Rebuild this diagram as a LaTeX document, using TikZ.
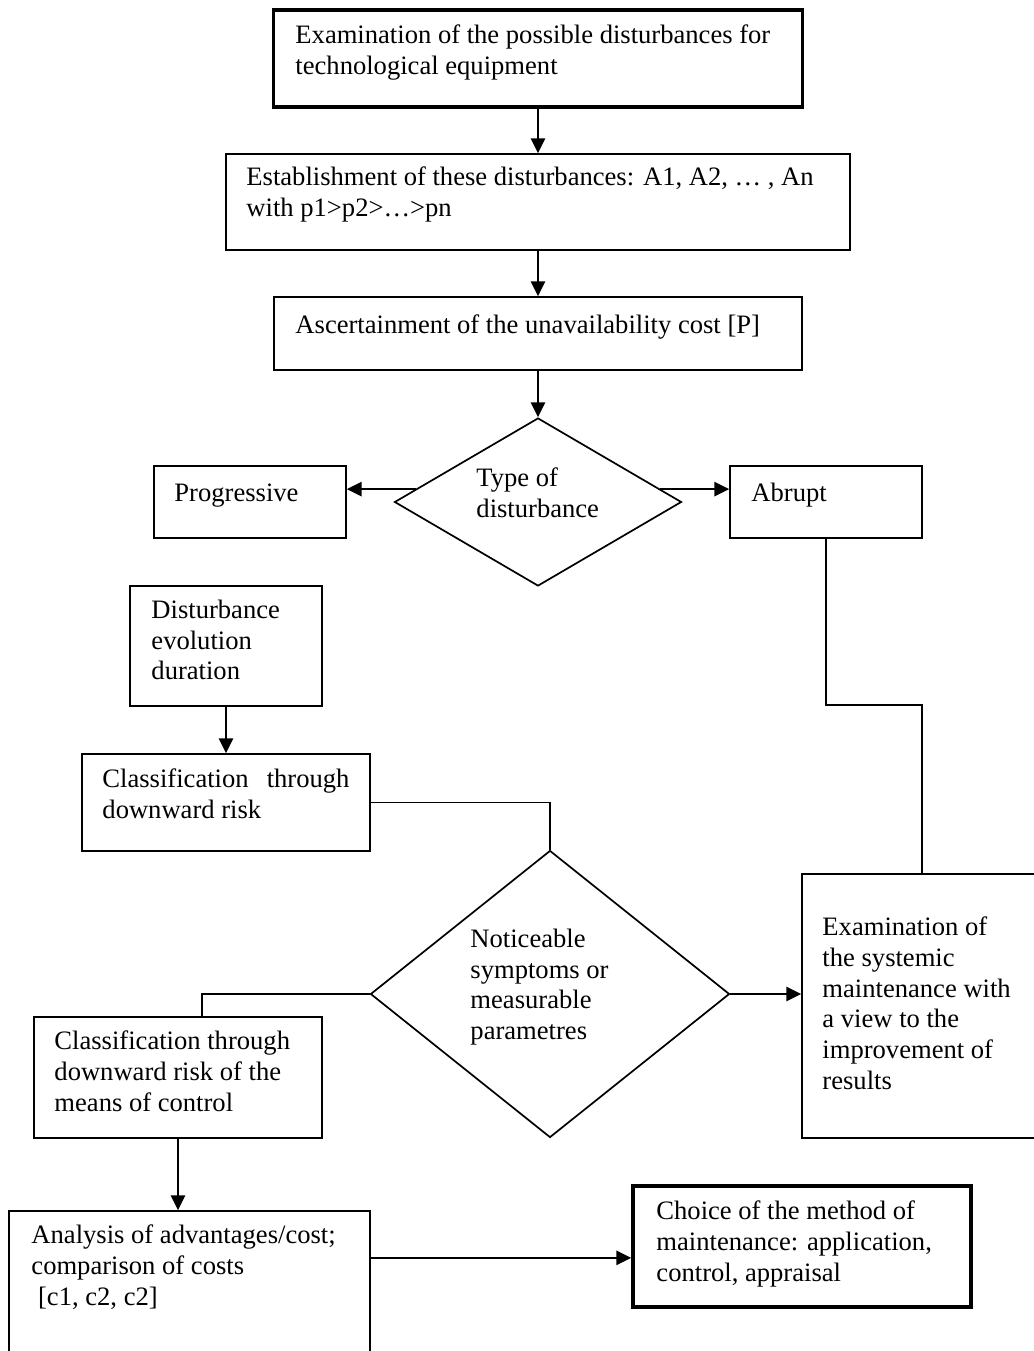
\documentclass[tikz,border=0pt]{standalone}
\usepackage{fontspec}
\setmainfont{Liberation Serif}
\usetikzlibrary{arrows.meta,shapes.geometric}
\begin{document}
\begin{tikzpicture}[x=0.44pt, y=-0.44pt,
    every node/.style={font=\fontsize{11.7pt}{13.5pt}\selectfont},
    box/.style 2 args={rectangle, draw=black, line width=0.75pt, inner sep=0pt, minimum width=#1*0.44pt, minimum height=#2*0.44pt},
    dec/.style 2 args={diamond, draw=black, line width=0.75pt, inner sep=0pt, minimum width=#1*0.44pt, minimum height=#2*0.44pt},
    heavy/.style={line width=1.6pt},
    txt/.style={anchor=north west, align=left, inner sep=0pt, execute at begin node=\strut},
    arr/.style={-{Triangle[length=6.5pt, width=6.3pt]}, line width=0.75pt, black},
    ln/.style={line width=0.75pt, black}
]
\useasboundingbox (0,0) rectangle (1034,1351);
\clip (0,0) rectangle (1034,1351);
\node[box={529}{97}, heavy] (exam) at (538, 58.5)  {};
\node[box={624}{96}]        (est)  at (538, 202)     {};
\node[box={528}{73}]        (asc)  at (538, 333.5)   {};
\node[dec={287}{168}]       (type) at (538, 502)     {};
\node[box={192}{72}]        (prog) at (250, 502)     {};
\node[box={192}{72}]        (abr)  at (826, 502)     {};
\node[box={192}{120}]       (dur)  at (226, 646)     {};
\node[box={288}{97}]        (cls)  at (226, 802.5)   {};
\node[dec={359}{287}]       (sym)  at (550, 994)     {};
\node[box={258}{264}]       (sys)  at (931, 1006)    {};
\node[box={288}{121}]       (ctl)  at (178, 1077.5)  {};
\node[box={361}{169}]       (ana)  at (189.5, 1295.5) {};
\node[box={338}{121}, heavy] (cho) at (802, 1246.5)  {};

\node[txt] (examT) at (295, 24.5)   {Examination of the possible disturbances for\\technological equipment};
\node[txt] (estT)  at (246, 166.5)  {Establishment of these disturbances: A1, A2, \dots\ , An\\with p1>p2>\dots>pn};
\node[txt] (ascT)  at (295, 311.5)  {Ascertainment of the unavailability cost [P]};
\node[txt] (typeT) at (476, 467.5)  {Type of\\disturbance};
\node[txt] (progT) at (174, 479.5)  {Progressive};
\node[txt] (abrT)  at (751, 479.5)  {Abrupt};
\node[txt] (durT)  at (151, 599.5)  {Disturbance\\evolution\\duration};
\node[txt] (clsT)  at (102, 768.5)  {\makebox[108.7pt][s]{Classification through}\\downward risk};
\node[txt] (symT)  at (470, 928.5)  {Noticeable\\symptoms or\\measurable\\parametres};
\node[txt] (sysT)  at (822, 916.5)  {Examination of\\the systemic\\maintenance with\\a view to the\\improvement of\\results};
\node[txt] (ctlT)  at (54, 1030.5)  {Classification through\\downward risk of the\\means of control};
\node[txt] (anaT)  at (31, 1224.5)  {Analysis of advantages/cost;\\comparison of costs\\\hspace*{0.25em}[c1, c2, c2]};
\node[txt] (choT)  at (656, 1200.5) {Choice of the method of\\maintenance: application,\\control, appraisal};

\coordinate (bend) at (922, 705);
\coordinate (cin)  at ([yshift=-5pt]cho.west);
\draw[arr] (exam.south) -- (est.north);
\draw[arr] (est.south)  -- (asc.north);
\draw[arr] (asc.south)  -- (type.north);
\draw[arr] (type.174)   -- (prog.east |- type.174);
\draw[arr] (type.6)     -- (abr.west |- type.6);
\draw[ln]  (abr.south)  |- (bend) -- (bend |- sys.north);
\draw[arr] (dur.south)  -- (cls.north);
\draw[ln]  (cls.east)   -| (sym.north);
\draw[ln]  (sym.west)   -| ([xshift=10.6pt]ctl.north);
\draw[arr] (sym.east)   -- (sym.east -| sys.west);
\draw[arr] (ctl.south)  -- (ctl.south |- ana.north);
\draw[arr] (ana.east |- cin) -- (cin);
\end{tikzpicture}
\end{document}
